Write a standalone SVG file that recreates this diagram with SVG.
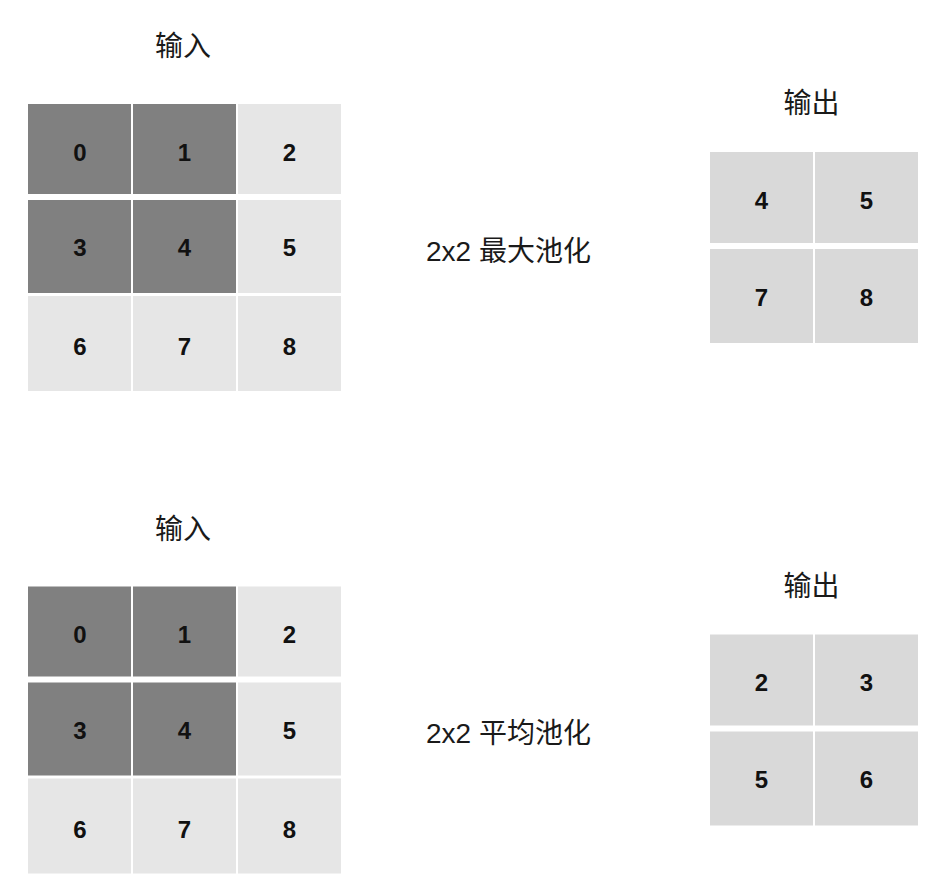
<svg xmlns="http://www.w3.org/2000/svg" width="937" height="894" viewBox="0 0 937 894">
<style>
.dk{fill:#808080}
.lt{fill:#e6e6e6}
.out{fill:#d9d9d9}
.num{font-family:"Liberation Sans",Arial,sans-serif;font-weight:bold;font-size:24px;fill:#111;text-anchor:middle}
.ttl{font-family:"Liberation Sans","Noto Sans CJK SC",sans-serif;font-size:28px;fill:#1a1a1a}
.mid{text-anchor:middle}
</style>
<rect width="937" height="894" fill="#ffffff"/>
<g id="max-pool">
  <g id="max-input">
    <text class="ttl mid" x="183" y="56">输入</text>
    <g id="max-in-0"><rect class="dk" x="28" y="104" width="103" height="90"/><text class="num" x="80" y="160.5">0</text></g>
    <g id="max-in-1"><rect class="dk" x="133" y="104" width="103" height="90"/><text class="num" x="184.5" y="160.5">1</text></g>
    <g id="max-in-2"><rect class="lt" x="238" y="104" width="103" height="90"/><text class="num" x="289.5" y="160.5">2</text></g>
    <g id="max-in-3"><rect class="dk" x="28" y="200" width="103" height="93"/><text class="num" x="80" y="256">3</text></g>
    <g id="max-in-4"><rect class="dk" x="133" y="200" width="103" height="93"/><text class="num" x="184.5" y="256">4</text></g>
    <g id="max-in-5"><rect class="lt" x="238" y="200" width="103" height="93"/><text class="num" x="289.5" y="256">5</text></g>
    <g id="max-in-6"><rect class="lt" x="28" y="296" width="103" height="95"/><text class="num" x="80" y="355">6</text></g>
    <g id="max-in-7"><rect class="lt" x="133" y="296" width="103" height="95"/><text class="num" x="184.5" y="355">7</text></g>
    <g id="max-in-8"><rect class="lt" x="238" y="296" width="103" height="95"/><text class="num" x="289.5" y="355">8</text></g>
  </g>
  <g id="max-label"><text class="ttl" x="426" y="260.5">2x2 最大池化</text></g>
  <g id="max-output">
    <text class="ttl mid" x="811.5" y="113">输出</text>
    <g id="max-out-0"><rect class="out" x="710" y="152" width="103" height="91"/><text class="num" x="761.5" y="208.5">4</text></g>
    <g id="max-out-1"><rect class="out" x="815" y="152" width="103" height="91"/><text class="num" x="866.5" y="208.5">5</text></g>
    <g id="max-out-2"><rect class="out" x="710" y="249" width="103" height="94"/><text class="num" x="761.5" y="305.5">7</text></g>
    <g id="max-out-3"><rect class="out" x="815" y="249" width="103" height="94"/><text class="num" x="866.5" y="305.5">8</text></g>
  </g>
</g>
<g id="avg-pool" transform="translate(0,482.5)">
  <g id="avg-input">
    <text class="ttl mid" x="183" y="56">输入</text>
    <g id="avg-in-0"><rect class="dk" x="28" y="104" width="103" height="90"/><text class="num" x="80" y="160.5">0</text></g>
    <g id="avg-in-1"><rect class="dk" x="133" y="104" width="103" height="90"/><text class="num" x="184.5" y="160.5">1</text></g>
    <g id="avg-in-2"><rect class="lt" x="238" y="104" width="103" height="90"/><text class="num" x="289.5" y="160.5">2</text></g>
    <g id="avg-in-3"><rect class="dk" x="28" y="200" width="103" height="93"/><text class="num" x="80" y="256">3</text></g>
    <g id="avg-in-4"><rect class="dk" x="133" y="200" width="103" height="93"/><text class="num" x="184.5" y="256">4</text></g>
    <g id="avg-in-5"><rect class="lt" x="238" y="200" width="103" height="93"/><text class="num" x="289.5" y="256">5</text></g>
    <g id="avg-in-6"><rect class="lt" x="28" y="296" width="103" height="95"/><text class="num" x="80" y="355">6</text></g>
    <g id="avg-in-7"><rect class="lt" x="133" y="296" width="103" height="95"/><text class="num" x="184.5" y="355">7</text></g>
    <g id="avg-in-8"><rect class="lt" x="238" y="296" width="103" height="95"/><text class="num" x="289.5" y="355">8</text></g>
  </g>
  <g id="avg-label"><text class="ttl" x="426" y="260.5">2x2 平均池化</text></g>
  <g id="avg-output">
    <text class="ttl mid" x="811.5" y="113">输出</text>
    <g id="avg-out-0"><rect class="out" x="710" y="152" width="103" height="91"/><text class="num" x="761.5" y="208.5">2</text></g>
    <g id="avg-out-1"><rect class="out" x="815" y="152" width="103" height="91"/><text class="num" x="866.5" y="208.5">3</text></g>
    <g id="avg-out-2"><rect class="out" x="710" y="249" width="103" height="94"/><text class="num" x="761.5" y="305.5">5</text></g>
    <g id="avg-out-3"><rect class="out" x="815" y="249" width="103" height="94"/><text class="num" x="866.5" y="305.5">6</text></g>
  </g>
</g>
<g id="connectors"/>
</svg>
